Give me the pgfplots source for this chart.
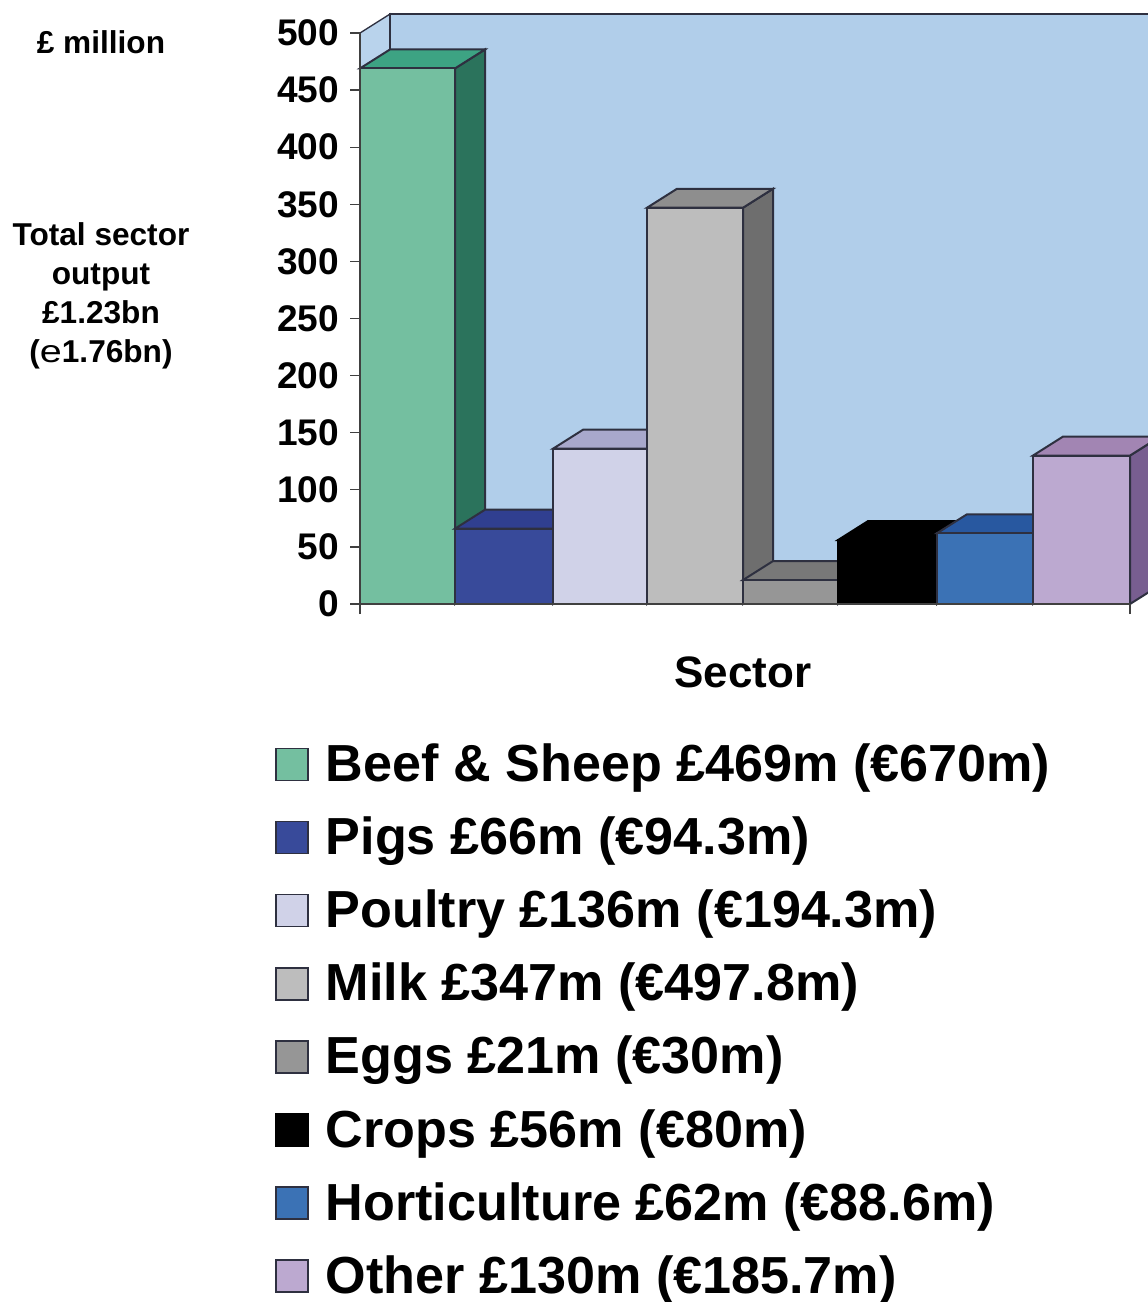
\documentclass[border=0pt]{standalone}
\usepackage{fontspec}
\setmainfont{Liberation Sans}
\usepackage{pgfplots}
\pgfplotsset{compat=1.18}

\definecolor{wall}{HTML}{B1CEEA}
\definecolor{beefF}{HTML}{74BFA0}\definecolor{beefT}{HTML}{3DA383}\definecolor{beefS}{HTML}{2B735C}
\definecolor{pigsF}{HTML}{384A9A}\definecolor{pigsT}{HTML}{303F90}\definecolor{pigsS}{HTML}{2A3780}
\definecolor{poulF}{HTML}{D0D2E8}\definecolor{poulT}{HTML}{A8A8CC}\definecolor{poulS}{HTML}{8A8AAE}
\definecolor{milkF}{HTML}{BDBDBD}\definecolor{milkT}{HTML}{8E8E8E}\definecolor{milkS}{HTML}{6E6E6E}
\definecolor{eggsF}{HTML}{969696}\definecolor{eggsT}{HTML}{787878}\definecolor{eggsS}{HTML}{666666}
\definecolor{cropF}{HTML}{000000}
\definecolor{hortF}{HTML}{3B72B5}\definecolor{hortT}{HTML}{2858A0}\definecolor{hortS}{HTML}{22508F}
\definecolor{otheF}{HTML}{BCA9D0}\definecolor{otheT}{HTML}{A285B3}\definecolor{otheS}{HTML}{785E90}
\definecolor{edge}{HTML}{2E3040}

\begin{document}
% 1 reference pixel = 0.75pt, origin at the top left corner
\begin{tikzpicture}
\path[use as bounding box] (0,0) rectangle (860.25pt,-976.5pt);

\node[font=\fontsize{23.7}{29.25}\selectfont\bfseries,anchor=base] at (75.75pt,-40.25pt) {£ million};
\node[font=\fontsize{23.7}{29.25}\selectfont\bfseries,align=center,anchor=base] at (75.75pt,-271.75pt)
  {Total sector\\output\\£1.23bn\\(\textmd{\scalebox{1.25}[1]{e}}1.76bn)};

\begin{axis}[
    at={(270pt,-453pt)}, anchor=south west,
    scale only axis, width=577.5pt, height=428.25pt,
    xmin=0, xmax=770, ymin=0, ymax=500,
    clip=false, axis on top,
    axis x line=bottom, axis y line=left,
    axis line style={-, draw=black!75, line width=1pt},
    xtick={0,770}, xticklabels={,},
    ytick={0,50,...,500},
    tick align=outside, major tick length=7.5pt,
    tick style={draw=black!75, line width=1pt},
    /pgf/number format/assume math mode=true,
    yticklabel style={font=\fontsize{27.8}{30}\selectfont\bfseries, inner sep=0pt, xshift=-8pt},
    xlabel={Sector},
    xlabel style={font=\fontsize{33}{36}\selectfont\bfseries, at={(axis description cs:0.497,-0.1465)}, anchor=base, inner sep=0pt},
    legend cell align=left,
    legend style={
        at={(axis description cs:-0.1104,-0.2400)}, anchor=north west,
        draw=none, fill=none, inner sep=0pt,
        font=\fontsize{39.1}{40}\selectfont\bfseries,
        nodes={inner sep=0pt, text height=30pt, text depth=7.5pt},
        row sep=17.35pt, column sep=12.75pt},
    legend image code/.code={\draw[#1,line width=1.2pt] (0pt,-10.5pt) rectangle (24pt,13.5pt);},
]
% back and side walls
\addplot[forget plot, fill=wall!90!white, draw=edge, line width=1pt] coordinates {(0,0) (30,16.6) (30,516.6) (0,500)} --cycle;
\addplot[forget plot, fill=wall, draw=none] coordinates {(30,16.6) (800,16.6) (800,516.6) (30,516.6)} --cycle;
\addplot[forget plot, draw=edge, line width=1.5pt] coordinates {(30,16.6) (30,516.6) (800,516.6)};

% beef & sheep
\addplot[forget plot, fill=beefS, draw=edge, line width=1.5pt] coordinates {(95,469) (125,485.6) (125,16.6) (95,0)} --cycle;
\addplot[forget plot, fill=beefT, draw=edge, line width=1.5pt] coordinates {(0,469) (95,469) (125,485.6) (30,485.6)} --cycle;
\addplot[ybar, bar width=95, bar shift=0pt, fill=beefF, draw=edge, line width=1.5pt] coordinates {(47.5,469)};
\addlegendentry{Beef \& Sheep £469m (€670m)}

% pigs
\addplot[forget plot, fill=pigsS, draw=edge, line width=1.5pt] coordinates {(193,66) (223,82.6) (223,16.6) (193,0)} --cycle;
\addplot[forget plot, fill=pigsT, draw=edge, line width=1.5pt] coordinates {(95,66) (193,66) (223,82.6) (125,82.6)} --cycle;
\addplot[ybar, bar width=98, bar shift=0pt, fill=pigsF, draw=edge, line width=1.5pt] coordinates {(144,66)};
\addlegendentry{Pigs £66m (€94.3m)}

% poultry
\addplot[forget plot, fill=poulS, draw=edge, line width=1.5pt] coordinates {(287,136) (317,152.6) (317,16.6) (287,0)} --cycle;
\addplot[forget plot, fill=poulT, draw=edge, line width=1.5pt] coordinates {(193,136) (287,136) (317,152.6) (223,152.6)} --cycle;
\addplot[ybar, bar width=94, bar shift=0pt, fill=poulF, draw=edge, line width=1.5pt] coordinates {(240,136)};
\addlegendentry{Poultry £136m (€194.3m)}

% milk
\addplot[forget plot, fill=milkS, draw=edge, line width=1.5pt] coordinates {(383,347) (413,363.6) (413,16.6) (383,0)} --cycle;
\addplot[forget plot, fill=milkT, draw=edge, line width=1.5pt] coordinates {(287,347) (383,347) (413,363.6) (317,363.6)} --cycle;
\addplot[ybar, bar width=96, bar shift=0pt, fill=milkF, draw=edge, line width=1.5pt] coordinates {(335,347)};
\addlegendentry{Milk £347m (€497.8m)}

% eggs
\addplot[forget plot, fill=eggsS, draw=edge, line width=1.5pt] coordinates {(478,21) (508,37.6) (508,16.6) (478,0)} --cycle;
\addplot[forget plot, fill=eggsT, draw=edge, line width=1.5pt] coordinates {(383,21) (478,21) (508,37.6) (413,37.6)} --cycle;
\addplot[ybar, bar width=95, bar shift=0pt, fill=eggsF, draw=edge, line width=1.5pt] coordinates {(430.5,21)};
\addlegendentry{Eggs £21m (€30m)}

% crops
\addplot[forget plot, fill=black, draw=black, line width=1.5pt] coordinates {(577,56) (607,72.6) (607,16.6) (577,0)} --cycle;
\addplot[forget plot, fill=black, draw=black, line width=1.5pt] coordinates {(478,56) (577,56) (607,72.6) (508,72.6)} --cycle;
\addplot[ybar, bar width=99, bar shift=0pt, fill=cropF, draw=black, line width=1.5pt] coordinates {(527.5,56)};
\addlegendentry{Crops £56m (€80m)}

% horticulture
\addplot[forget plot, fill=hortS, draw=edge, line width=1.5pt] coordinates {(673,62) (703,78.6) (703,16.6) (673,0)} --cycle;
\addplot[forget plot, fill=hortT, draw=edge, line width=1.5pt] coordinates {(577,62) (673,62) (703,78.6) (607,78.6)} --cycle;
\addplot[ybar, bar width=96, bar shift=0pt, fill=hortF, draw=edge, line width=1.5pt] coordinates {(625,62)};
\addlegendentry{Horticulture £62m (€88.6m)}

% other
\addplot[forget plot, fill=otheS, draw=edge, line width=1.5pt] coordinates {(770,130) (800,146.6) (800,16.6) (770,0)} --cycle;
\addplot[forget plot, fill=otheT, draw=edge, line width=1.5pt] coordinates {(673,130) (770,130) (800,146.6) (703,146.6)} --cycle;
\addplot[ybar, bar width=97, bar shift=0pt, fill=otheF, draw=edge, line width=1.5pt] coordinates {(721.5,130)};
\addlegendentry{Other £130m (€185.7m)}
\end{axis}
\end{tikzpicture}
\end{document}
